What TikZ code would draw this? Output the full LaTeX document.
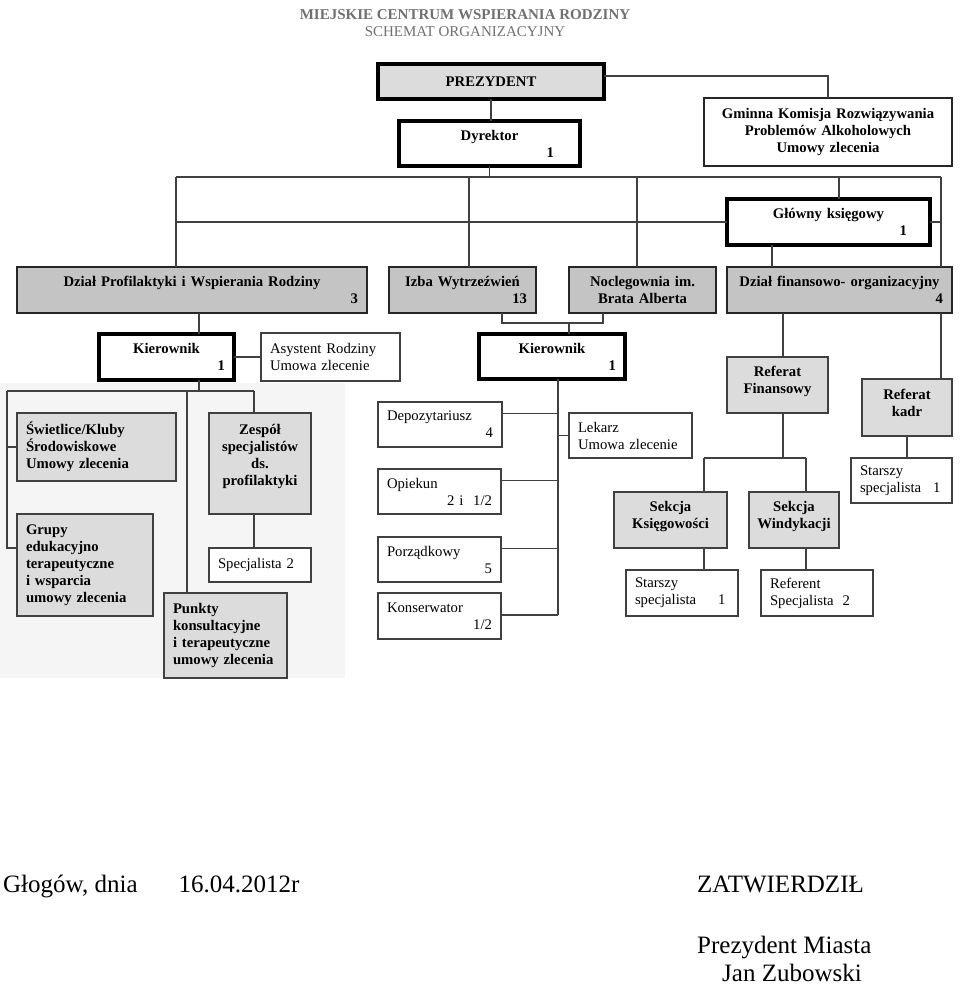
\documentclass[tikz,border=0pt]{standalone}
\usepackage{fontspec}
\setmainfont{Liberation Serif}
\definecolor{rowgray}{HTML}{C4C4C4}
\definecolor{boxgray}{HTML}{DCDCDC}
\definecolor{linegray}{HTML}{404040}
\definecolor{titlegray}{HTML}{707070}
\newcommand{\boxfont}{\fontsize{14.7}{17}\selectfont}
\newcommand{\footfont}{\fontsize{25}{30}\selectfont}
% number pushed to the right edge of a box
\newcommand{\rnum}[1]{\\\leavevmode\hspace*{0pt plus 1filll}#1}

\begin{document}
\begin{tikzpicture}[
  x=1pt, y=-1pt,
  box/.style={rectangle, draw=linegray, line width=1.3pt, fill=white, anchor=north west,
              outer sep=0pt, inner xsep=9pt, inner ysep=0pt, align=left, font=\boxfont},
  bbox/.style={box, align=center, font=\boxfont\bfseries},
  thickbox/.style={bbox, draw=black, line width=3.2pt},
  rowbox/.style={bbox, draw=black!85, line width=2.4pt, fill=rowgray},
  graybox/.style={bbox, fill=boxgray},
  conn/.style={draw=linegray, line width=1.1pt},
  foot/.style={font=\footfont, anchor=base west, inner sep=0pt}
]
\useasboundingbox (0,0) rectangle (960,985);
\fill[black!4] (0,383) rectangle (345,678);

% title
\node[font=\fontsize{15}{17}\selectfont, text=titlegray, align=center] (title) at (465,23)
  {\textbf{MIEJSKIE CENTRUM WSPIERANIA RODZINY}\\SCHEMAT ORGANIZACYJNY};

% top level
\node[thickbox, fill=boxgray, text width=208pt, minimum height=35pt] (prez) at (378,64) {PREZYDENT};
\node[thickbox, text width=163pt, minimum height=45pt] (dyr) at (399,121) {Dyrektor\rnum{1\kern17pt}};
\node[bbox, draw=black!85, line width=2.4pt, text width=230pt, minimum height=68pt] (gminna) at (704,98)
  {Gminna Komisja Rozwiązywania\\Problemów Alkoholowych\\Umowy zlecenia};
\node[thickbox, text width=185pt, minimum height=46pt] (glowny) at (727,199) {Główny księgowy\rnum{1\kern14pt}};

% departments
\node[rowbox, text width=332pt, minimum height=46pt] (dzialprof) at (17,267) {Dział Profilaktyki i Wspierania Rodziny\rnum{3}};
\node[rowbox, text width=129pt, minimum height=46pt] (izba) at (389,267) {Izba Wytrzeźwień\rnum{13}};
\node[rowbox, text width=129pt, minimum height=46pt] (nocleg) at (569,267) {Noclegownia im.\\Brata Alberta};
\node[rowbox, text width=207pt, minimum height=46pt] (dzialfin) at (727,267) {Dział finansowo- organizacyjny\rnum{4}};

% left branch
\node[thickbox, text width=117pt, minimum height=46pt] (kier1) at (99,334) {Kierownik\rnum{1}};
\node[box, text width=121pt, minimum height=48pt] (asyst) at (261,333) {Asystent Rodziny\\Umowa zlecenie};
\node[graybox, align=left, text width=141pt, minimum height=68pt] (swietlice) at (17,413)
  {Świetlice/Kluby\\Środowiskowe\\Umowy zlecenia};
\node[graybox, text width=84pt, minimum height=101pt] (zespol) at (209,413) {Zespół\\specjalistów\\ds.\\profilaktyki\\\mbox{}};
\node[box, text width=84pt, minimum height=34pt] (spec2) at (209,548) {Specjalista 2};
\node[graybox, align=left, text width=118pt, minimum height=102pt] (grupy) at (17,514)
  {Grupy\\edukacyjno\\terapeutyczne\\i wsparcia\\umowy zlecenia};
\node[graybox, align=left, text width=105pt, minimum height=85pt] (punkty) at (164,593)
  {Punkty\\konsultacyjne\\i terapeutyczne\\umowy zlecenia};

% middle branch
\node[thickbox, text width=128pt, minimum height=45pt] (kier2) at (479,334) {Kierownik\rnum{1}};
\node[box, text width=106pt, minimum height=45pt] (depoz) at (378,402) {Depozytariusz\rnum{4}};
\node[box, text width=105pt, minimum height=45pt] (lekarz) at (569,413) {Lekarz\\Umowa zlecenie};
\node[box, text width=105pt, minimum height=45pt] (opiekun) at (378,469) {Opiekun\rnum{2 i\ \ 1/2}};
\node[box, text width=105pt, minimum height=45pt] (porz) at (378,537) {Porządkowy\rnum{5}};
\node[box, text width=105pt, minimum height=46pt] (konserw) at (378,593) {Konserwator\rnum{1/2}};

% right branch
\node[graybox, text width=83pt, minimum height=56pt] (reffin) at (727,357) {Referat\\Finansowy\\[-7pt]\mbox{}};
\node[graybox, text width=72pt, minimum height=57pt] (refkadr) at (862,379) {Referat\\kadr\\[-7pt]\mbox{}};
\node[box, text width=83pt, minimum height=45pt] (starszykadr) at (851,458) {Starszy\\specjalista\hspace{12pt}1};
\node[graybox, text width=95pt, minimum height=56pt] (sekks) at (614,492) {Sekcja\\Księgowości\\[-7pt]\mbox{}};
\node[graybox, inner xsep=4pt, text width=82pt, minimum height=56pt] (sekwin) at (749,492) {Sekcja\\Windykacji\\[-7pt]\mbox{}};
\node[box, text width=94pt, minimum height=46pt] (starszyks) at (626,570) {Starszy\\specjalista\hspace{22pt}1};
\node[box, text width=94pt, minimum height=46pt] (referent) at (761,570) {Referent\\Specjalista\hspace{9pt}2};

% joints
\coordinate (pg) at (828,76);
\coordinate (bL) at (176,177);
\coordinate (bR) at (941,177);
\coordinate (bIz) at (469,177);
\coordinate (bNo) at (637,177);
\coordinate (bGk) at (839,177);
\coordinate (gkd) at (772,250);
\coordinate (iz) at (502,323);
\coordinate (nc) at (603,323);
\coordinate (kz) at (569,323);
\coordinate (pk) at (199,391);
\coordinate (hl) at (7,391);
\coordinate (hm) at (187,391);
\coordinate (hr) at (254,391);
\coordinate (gl) at (7,548);
\coordinate (kd) at (558,615);
\coordinate (fr) at (783,458);
\coordinate (shl) at (704,458);
\coordinate (shr) at (806,458);

% connectors
\draw[conn] (prez.south) -- (prez.south |- dyr.north);
\draw[conn] (prez.east |- pg) -| (gminna.north);
\draw[conn] (dyr.south) -- (dyr.south |- bL);
\draw[conn] (bL) -- (bR);
\draw[conn] (bL) -- (bL |- dzialprof.north);
\draw[conn] (bIz) -- (bIz |- izba.north);
\draw[conn] (bNo) -- (bNo |- nocleg.north);
\draw[conn] (bGk) -- (bGk |- glowny.north);
\draw[conn] (bR) -- (bR |- dzialfin.north);
\draw[conn] (bL |- glowny.west) -- (glowny.west);
\draw[conn] (glowny.east) -- (glowny.east -| bR);
\draw[conn] (gkd |- glowny.south) -- (gkd |- dzialfin.north);
\draw[conn] (iz |- izba.south) -- (iz) -- (nc) -- (nc |- nocleg.south);
\draw[conn] (kz) -- (kz |- kier2.north);

\draw[conn] (pk |- dzialprof.south) -- (pk |- kier1.north);
\draw[conn] (kier1.east) -- (asyst.west);
\draw[conn] (pk |- kier1.south) -- (pk);
\draw[conn] (hl) -- (hr);
\draw[conn] (hl) -- (gl) -- (gl -| grupy.west);
\draw[conn] (hl |- swietlice.west) -- (swietlice.west);
\draw[conn] (hm) -- (hm |- punkty.north);
\draw[conn] (hr) -- (hr |- zespol.north);
\draw[conn] (hr |- zespol.south) -- (hr |- spec2.north);

\draw[conn] (kd |- kier2.south) -- (kd);
\draw[conn] ([yshift=11pt]depoz.east) -- ([yshift=11pt]depoz.east -| kd);
\draw[conn] (lekarz.west) -- (lekarz.west -| kd);
\draw[conn] ([yshift=11pt]opiekun.east) -- ([yshift=11pt]opiekun.east -| kd);
\draw[conn] ([yshift=11pt]porz.east) -- ([yshift=11pt]porz.east -| kd);
\draw[conn] (konserw.east |- kd) -- (kd);

\draw[conn] (fr |- dzialfin.south) -- (fr |- reffin.north);
\draw[conn] (bR |- dzialfin.south) -- (bR |- refkadr.north);
\draw[conn] (refkadr.south) -- (refkadr.south |- starszykadr.north);
\draw[conn] (fr |- reffin.south) -- (fr);
\draw[conn] (shl) -- (shr);
\draw[conn] (shl) -- (shl |- sekks.north);
\draw[conn] (shr) -- (shr |- sekwin.north);
\draw[conn] (shl |- sekks.south) -- (shl |- starszyks.north);
\draw[conn] (shr |- sekwin.south) -- (shr |- referent.north);

% footer
\node[foot] (miejsce) at (3,892) {Głogów, dnia\hspace{41pt}16.04.2012r};
\node[foot] (zatw) at (697,892) {ZATWIERDZIŁ};
\node[foot] (prezm) at (697,953) {Prezydent Miasta};
\node[foot] (podpis) at (722,981) {Jan Zubowski};
\end{tikzpicture}
\end{document}
